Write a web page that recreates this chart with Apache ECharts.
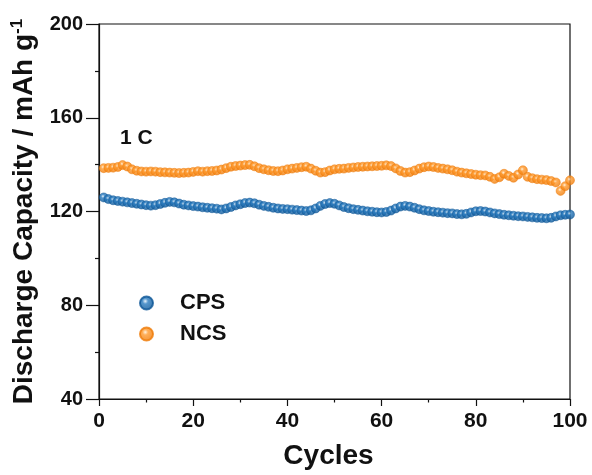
<!DOCTYPE html>
<html>
<head>
<meta charset="utf-8">
<script src="https://cdn.jsdelivr.net/npm/echarts@6/dist/echarts.min.js"></script>
<style>
  html, body { margin: 0; padding: 0; background: #fff; }
  #chart { width: 592px; height: 475px; }
</style>
</head>
<body>
<div id="chart"></div>
<script>
// Cycle numbers 1..100
const cycles = [];
for (let i = 1; i <= 100; i++) cycles.push(i);

// Discharge capacity (mAh g-1) at 1 C
const cpsCapacity = [
  126.0, 125.3, 124.8, 124.5, 124.2, 123.9, 123.6, 123.3, 123.0, 122.7,
  122.5, 122.7, 123.2, 123.7, 124.1, 123.9, 123.4, 122.9, 122.6, 122.3,
  122.1, 121.8, 121.6, 121.4, 121.2, 120.9, 121.3, 121.9, 122.6, 123.1,
  123.6, 123.8, 123.5, 122.9, 122.4, 122.0, 121.6, 121.3, 121.1, 121.0,
  120.8, 120.6, 120.4, 120.2, 120.5, 121.3, 122.4, 123.2, 123.6, 123.3,
  122.6, 121.9, 121.4, 121.0, 120.7, 120.4, 120.1, 119.9, 119.7, 119.6,
  119.8, 120.4, 121.3, 122.1, 122.4, 122.1, 121.6, 121.0, 120.5, 120.2,
  119.9, 119.7, 119.5, 119.3, 119.2, 118.9, 118.8, 119.0, 119.6, 120.1,
  120.2, 120.0, 119.6, 119.2, 118.9, 118.6, 118.4, 118.2, 118.0, 117.9,
  117.7, 117.5, 117.3, 117.2, 117.1, 117.3, 117.9, 118.4, 118.6, 118.7
];
const ncsCapacity = [
  138.5, 138.6, 138.7, 139.0, 139.8, 139.2, 138.0, 137.4, 137.1, 137.0,
  137.1, 137.0, 136.8, 136.7, 136.6, 136.5, 136.4, 136.5, 136.6, 136.9,
  137.2, 137.0, 137.2, 137.3, 137.5, 137.9, 138.5, 139.1, 139.4, 139.6,
  139.8, 139.9, 139.3, 138.5, 138.0, 137.6, 137.3, 137.2, 137.5, 138.0,
  138.3, 138.6, 138.9, 139.1, 138.3, 137.4, 136.6, 136.8, 137.5, 138.0,
  138.2, 138.3, 138.6, 138.8, 139.0, 139.1, 139.2, 139.3, 139.4, 139.5,
  139.7, 139.4, 138.4, 137.3, 136.6, 136.8, 137.5, 138.3, 138.9, 139.2,
  139.0, 138.6, 138.3, 138.0, 137.6, 137.0, 136.6, 136.3, 136.0, 135.7,
  135.5, 135.4, 134.8, 133.9, 134.6, 136.1, 135.2, 134.4, 135.8, 137.6,
  134.8, 134.2, 133.8, 133.6, 133.4, 133.0, 132.4, 128.8, 130.8, 133.3
];

const xTicks = [0, 20, 40, 60, 80, 100];
const yTicks = [40, 80, 120, 160, 200];

const FONT = 'Liberation Sans, Arial, sans-serif';

// Shaded ball markers
function ball(light, mid, dark) {
  return new echarts.graphic.RadialGradient(0.42, 0.38, 0.62, [
    { offset: 0, color: light },
    { offset: 0.3, color: mid },
    { offset: 1, color: dark }
  ]);
}
const cpsFill = ball('#e3f0fa', '#2a7cc0', '#0b5596');
const ncsFill = ball('#fff0d8', '#ff9a2e', '#ef7a06');

const pairs = (ys) => cycles.map((c, i) => [c, ys[i]]);

const chart = echarts.init(document.getElementById('chart'), null, { renderer: 'canvas' });

const lineStyle = { color: '#111', width: 1.2 };
const labelStyle = { color: '#111', fontFamily: FONT, fontWeight: 'bold', fontSize: 20 };

chart.setOption({
  animation: false,
  grid: {
    left: 99, right: 22, top: 24, bottom: 72,
    show: true, borderColor: '#111', borderWidth: 1.2, backgroundColor: 'transparent'
  },
  xAxis: {
    type: 'value', min: 0, max: 100, interval: 20,
    axisLine: { show: true, lineStyle },
    axisTick: { show: true, inside: false, length: 7, lineStyle },
    minorTick: { show: true, splitNumber: 2, length: 3.5, lineStyle },
    splitLine: { show: false },
    axisLabel: Object.assign({}, labelStyle, { fontSize: 21, margin: 12,
      formatter: (v) => xTicks.includes(v) ? String(v) : '' }),
    name: 'Cycles', nameLocation: 'middle', nameGap: 43,
    nameTextStyle: { color: '#111', fontFamily: FONT, fontWeight: 'bold', fontSize: 28, padding: [0, 12, 0, 0] }
  },
  yAxis: {
    type: 'value', min: 40, max: 200, interval: 40,
    axisLine: { show: true, lineStyle },
    axisTick: { show: true, inside: false, length: 13, lineStyle },
    minorTick: { show: true, splitNumber: 2, length: 4, lineStyle },
    splitLine: { show: false },
    axisLabel: Object.assign({}, labelStyle, { fontSize: 20, margin: 16,
      formatter: (v) => yTicks.includes(v) ? String(v) : '' }),
    name: 'Discharge Capacity / mAh g{sup|-1}', nameLocation: 'middle', nameGap: 52,
    nameTextStyle: {
      color: '#111', fontFamily: FONT, fontWeight: 'bold', fontSize: 28,
      rich: { sup: { fontFamily: FONT, fontWeight: 'bold', fontSize: 17, verticalAlign: 'top', padding: [0, 0, 14, 0], color: '#111' } }
    }
  },
  legend: {
    orient: 'vertical', left: 134, top: 287, itemGap: 9,
    icon: 'circle', itemWidth: 13, itemHeight: 13,
    textStyle: { color: '#111', fontFamily: FONT, fontWeight: 'bold', fontSize: 22, lineHeight: 22, padding: [0, 0, 0, 22] },
    data: ['CPS', 'NCS']
  },
  graphic: [
    { type: 'text', left: 120, top: 128,
      style: { text: '1 C', fill: '#111', font: 'bold 21px ' + FONT } }
  ],
  series: [
    {
      name: 'CPS', type: 'scatter', symbol: 'circle', symbolSize: 9,
      itemStyle: { color: cpsFill, borderColor: '#0b5596', borderWidth: 0.6 },
      data: pairs(cpsCapacity)
    },
    {
      name: 'NCS', type: 'scatter', symbol: 'circle', symbolSize: 9,
      itemStyle: { color: ncsFill, borderColor: '#ef7a06', borderWidth: 0.6 },
      data: pairs(ncsCapacity)
    }
  ]
});
</script>
</body>
</html>
